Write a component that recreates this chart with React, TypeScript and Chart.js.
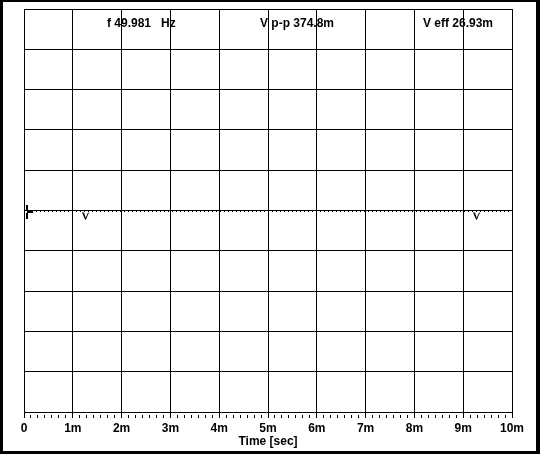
import React, { useEffect, useRef } from 'react';
import { Chart, registerables } from 'chart.js';

Chart.register(...registerables);

// ---- data ----
const majorTicksMs = [0, 1, 2, 3, 4, 5, 6, 7, 8, 9, 10];
const tickLabels = ['0', '1m', '2m', '3m', '4m', '5m', '6m', '7m', '8m', '9m', '10m'];
const minorPerMajor = 7;
const traceTimes = [0, 10];
const traceValues = [0, 0];
const rippleValues = [-0.025, -0.025];
const cursorTimes = [1.25, 9.26];
const triggerTime = 0;
const triggerLevel = 0;
const headerLabels = ['f 49.981   Hz', 'V p-p 374.8m', 'V eff 26.93m'];
const axisTitle = 'Time [sec]';

const FONT = '"Liberation Sans", Arial, sans-serif';

const scopePlugin = {
  id: 'scopeDecor',
  afterDraw(chart: any) {
    const { ctx, width, height } = chart;
    const xs = chart.scales.x;
    const ys = chart.scales.y;
    ctx.save();
    // outer frame
    ctx.fillStyle = '#000';
    ctx.fillRect(0, 0, 3, height);
    ctx.fillRect(0, 0, width, 2);
    ctx.fillRect(width - 4, 0, 4, height);
    ctx.fillRect(0, height - 3, width, 3);

    // header readouts
    ctx.font = `bold 12px ${FONT}`;
    ctx.textBaseline = 'alphabetic';
    ctx.textAlign = 'left';
    const headerX = [107, 260, 423];
    headerLabels.forEach((t, i) => ctx.fillText(t, headerX[i], 27));

    // cursor markers (V shapes)
    const y0 = ys.getPixelForValue(triggerLevel);
    ctx.strokeStyle = '#000';
    ctx.lineWidth = 1;
    cursorTimes.forEach((t) => {
      const x = Math.round(xs.getPixelForValue(t)) + 0.5;
      const top = Math.round(y0) + 1.5;
      ctx.beginPath();
      ctx.moveTo(x - 3, top);
      ctx.lineTo(x, top + 7);
      ctx.lineTo(x + 3, top);
      ctx.stroke();
      ctx.beginPath();
      ctx.moveTo(x - 2, top);
      ctx.lineTo(x, top + 6);
      ctx.stroke();
    });

    // trigger marker
    const tx = Math.round(xs.getPixelForValue(triggerTime)) + 2;
    const ty = Math.round(y0);
    ctx.fillStyle = '#000';
    ctx.fillRect(tx, ty - 6, 2, 5);
    ctx.fillRect(tx, ty + 2, 2, 6);
    ctx.fillRect(tx + 1, ty - 1, 6, 3);
    ctx.restore();
  },
};

export default function App() {
  const canvasRef = useRef<HTMLCanvasElement | null>(null);

  useEffect(() => {
    const canvas = canvasRef.current;
    if (!canvas) return;
    const chart = new Chart(canvas, {
      type: 'line',
      data: {
        datasets: [
          {
            label: 'trace',
            data: traceTimes.map((t, i) => ({ x: t, y: traceValues[i] })),
            borderColor: '#000',
            borderWidth: 1,
            pointRadius: 0,
            tension: 0,
          },
          {
            label: 'ripple',
            data: traceTimes.map((t, i) => ({ x: t, y: rippleValues[i] })),
            borderColor: '#000',
            borderWidth: 1,
            borderDash: [1, 3],
            pointRadius: 0,
            tension: 0,
          },
        ],
      },
      options: {
        responsive: false,
        animation: false,
        layout: { padding: { left: 24, top: 9, right: 28, bottom: 0 } },
        plugins: {
          legend: { display: false },
          tooltip: { enabled: false },
          title: { display: false },
        },
        scales: {
          x: {
            type: 'linear',
            position: 'bottom',
            weight: 1,
            min: majorTicksMs[0],
            max: majorTicksMs[majorTicksMs.length - 1],
            ticks: {
              stepSize: 1,
              padding: 3,
              maxRotation: 0,
              autoSkip: false,
              color: '#000',
              font: { family: FONT, size: 12, weight: 'bold' },
              callback: (v: any) => {
                const i = majorTicksMs.indexOf(Number(v));
                return i >= 0 ? tickLabels[i] : '';
              },
            },
            grid: {
              color: '#000',
              lineWidth: 1,
              drawTicks: true,
              tickLength: 6,
              tickColor: '#000',
            },
            border: { display: true, color: '#000', width: 1 },
            title: {
              display: true,
              text: axisTitle,
              color: '#000',
              font: { family: FONT, size: 12, weight: 'bold' },
              padding: { top: 0, bottom: 5 },
            },
            afterFit: (s: any) => {
              s.height = 42;
            },
          },
          xMinor: {
            type: 'linear',
            position: 'bottom',
            weight: 0,
            min: majorTicksMs[0],
            max: majorTicksMs[majorTicksMs.length - 1],
            ticks: { display: false, stepSize: 1 / minorPerMajor },
            grid: {
              drawOnChartArea: false,
              drawTicks: true,
              tickLength: 6,
              tickColor: '#000',
              tickWidth: 1,
              tickBorderDash: [0, 3, 3, 20],
            },
            border: { display: false },
            afterFit: (s: any) => {
              s.height = 0;
            },
          },
          y: {
            type: 'linear',
            position: 'left',
            min: -5,
            max: 5,
            ticks: { display: false, stepSize: 1 },
            grid: { color: '#000', lineWidth: 1, drawTicks: false },
            border: { display: true, color: '#000', width: 1 },
            afterFit: (s: any) => {
              s.width = 0;
            },
          },
        },
      } as any,
      plugins: [scopePlugin],
    });
    return () => chart.destroy();
  }, []);

  return (
    <div style={{ position: 'absolute', left: 0, top: 0, width: 540, height: 454, background: '#fff' }}>
      <canvas ref={canvasRef} width={540} height={454} style={{ display: 'block' }} />
    </div>
  );
}
